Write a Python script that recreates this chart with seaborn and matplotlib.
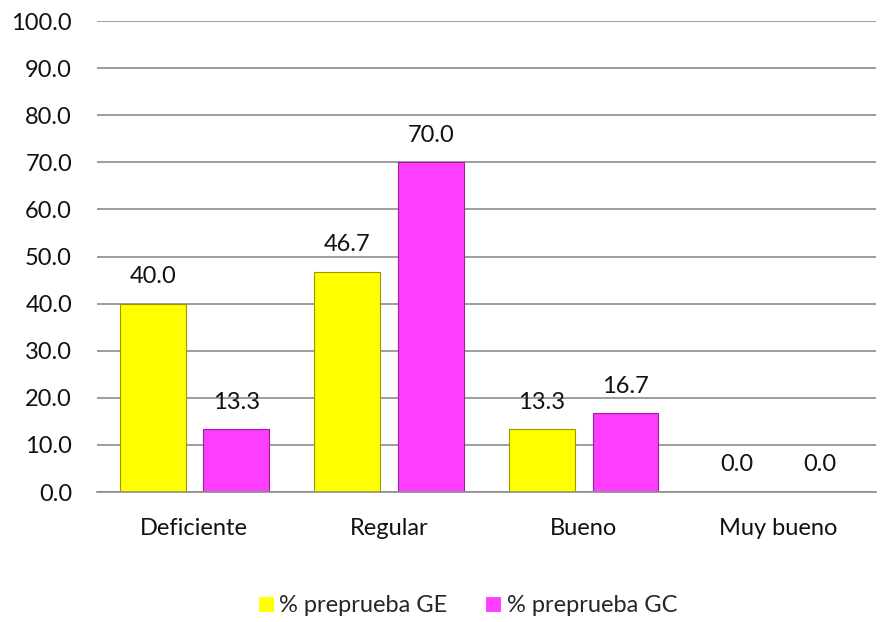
import matplotlib
matplotlib.use("Agg")
import matplotlib.pyplot as plt
import seaborn as sns
import pandas as pd

categories = ["Deficiente", "Regular", "Bueno", "Muy bueno"]
series_names = ["% preprueba GE", "% preprueba GC"]
ge_values = [40.0, 46.7, 13.3, 0.0]
gc_values = [13.3, 70.0, 16.7, 0.0]

colors = ["#ffff00", "#ff3dff"]
edge_colors = ["#9a9a00", "#9a1f9a"]

df = pd.DataFrame({
    "categoria": categories * 2,
    "serie": [series_names[0]] * 4 + [series_names[1]] * 4,
    "valor": ge_values + gc_values,
})

sns.set_style("white")
plt.rcParams["font.family"] = ["Lato", "DejaVu Sans"]

fig = plt.figure(figsize=(8.86, 6.22), dpi=100)
ax = fig.add_axes([0.1095, 0.209, 0.879, 0.757])

sns.barplot(data=df, x="categoria", y="valor", hue="serie",
            palette=colors, width=0.857, gap=0.21, ax=ax,
            linewidth=0.8, saturation=1, legend=True)

# darker outline per series + value labels
for cont, ec in zip(ax.containers, edge_colors):
    for p in cont:
        p.set_edgecolor(ec)
    ax.bar_label(cont, fmt="%.1f", padding=12, fontsize=17, color="#111111")

ax.set_ylim(0, 100)
ax.set_yticks(range(0, 101, 10))
ax.set_yticklabels([f"{v:.1f}" for v in range(0, 101, 10)])
ax.set_xlim(-0.5, 3.5)
ax.set_xlabel("")
ax.set_ylabel("")
ax.yaxis.grid(True, color="#8c8c8c", linewidth=1.2)
ax.set_axisbelow(True)
for s in ["top", "right", "left"]:
    ax.spines[s].set_visible(False)
ax.spines["bottom"].set_color("#8c8c8c")
ax.spines["bottom"].set_linewidth(1.2)
ax.tick_params(axis="y", length=0, pad=18, labelsize=17, labelcolor="#111111")
ax.tick_params(axis="x", length=0, pad=19, labelsize=17, labelcolor="#111111")

handles, labels = ax.get_legend_handles_labels()
ax.legend(handles, labels, loc="center", bbox_to_anchor=(0.476, -0.242),
          ncol=2, frameon=False, fontsize=17, handlelength=0.65,
          handleheight=0.65, handletextpad=0.25, columnspacing=1.6)

fig.savefig("out.png", dpi=100)
